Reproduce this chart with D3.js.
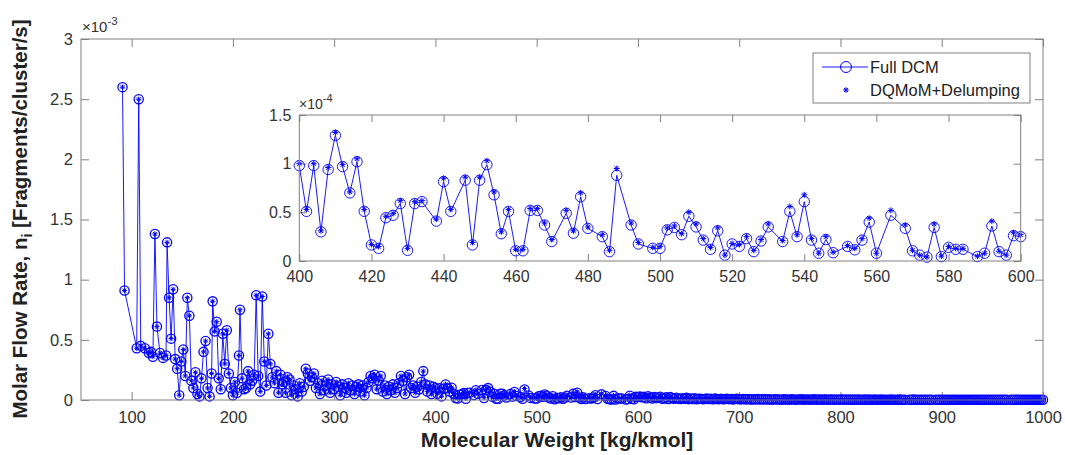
<!DOCTYPE html>
<html><head><meta charset="utf-8">
<script src="https://cdn.jsdelivr.net/npm/d3@7"></script>
<style>
html,body{margin:0;padding:0;background:#fff;}
svg{display:block;font-family:"Liberation Sans",Arial,sans-serif;}
</style></head>
<body><svg id="c" width="1065" height="455"></svg>
<script>
// ---- data (molar flow rate in units of 1e-4 fragments/cluster/s) ----
const mwLow = [91,93,105,107,109,113,117,119,121,123,125,128,131,134,135,137,139,141,143,145,147,149,151,153,155,157,159,161,163,165,167,169,171,173,175,177,179,180,182,184,186,188,190,192,194,196,198,200,202,204,206,207,209,211,213,215,217,219,221,223,225,227,229,231,233,235,237,239,241,243,245,247,249,
250,252,254,256,258,260,262,264,266,268,270,272,274,276,278,280,282,284,286,288,290,292,294,296,298,300,302,304,306,308,310,312,314,316,318,320,322,324,326,328,330,332,334,336,338,340,342,344,346,348,350,352,354,356,358,360,362,364,366,368,370,372,374,376,378,380,382,384,386,388,390,392,394,396,398];
const fullLow = [26.0,9.1,4.3,25.0,4.5,4.3,3.9,4.0,3.6,13.8,6.1,3.9,3.5,3.7,13.1,8.5,5.1,9.2,3.4,2.6,0.4,3.2,4.2,2.0,8.5,7.0,1.6,1.0,2.3,0.5,0.3,1.8,4.0,4.9,1.0,0.3,2.2,8.2,5.7,6.5,1.8,0.9,5.5,3.0,5.8,2.2,1.0,0.4,1.5,0.6,3.7,7.5,1.8,0.9,1.0,2.4,1.3,1.6,2.1,8.7,2.0,0.7,8.6,3.2,1.2,5.5,3.0,1.9,1.4,2.4,0.6,2.1,1.3,
1.5,0.6,1.9,1.7,0.4,1.2,0.9,0.3,1.4,0.7,1.1,2.6,2.2,1.6,1.9,2.2,1.0,1.4,0.5,1.6,0.8,1.2,1.7,0.6,1.3,0.9,1.5,1.1,0.4,1.3,1.0,0.6,1.4,0.8,1.2,0.5,1.1,1.3,0.7,1.2,0.4,1.0,1.5,2.0,1.8,2.1,0.9,1.6,2.0,0.7,1.2,0.5,1.1,0.8,1.3,0.6,1.0,1.4,2.0,1.6,0.5,1.9,2.1,1.0,1.2,0.6,1.1,0.9,1.5,2.4,1.3,0.7,1.2,0.5,1.1];

const mwMid = [400,402,404,406,408,410,412,414,416,418,420,422,424,426,428,430,432,434,438,440,442,446,448,450,452,454,456,458,460,462,464,466,468,470,474,476,478,480,484,486,488,492,494,498,500,502,504,506,508,510,512,514,516,518,520,522,524,526,528,530,534,536,538,540,542,544,546,548,552,554,556,558,560,564,568,570,572,574,576,578,580,582,584,588,590,592,594,596,598,600];
const fullMid = [0.98,0.51,0.98,0.30,0.94,1.29,0.97,0.70,1.02,0.51,0.165,0.13,0.445,0.47,0.59,0.11,0.59,0.61,0.41,0.815,0.51,0.83,0.165,0.83,0.99,0.68,0.28,0.51,0.105,0.105,0.52,0.52,0.37,0.20,0.49,0.285,0.66,0.335,0.25,0.096,0.88,0.37,0.175,0.13,0.13,0.32,0.345,0.27,0.46,0.35,0.215,0.12,0.31,0.06,0.175,0.15,0.23,0.096,0.205,0.35,0.20,0.51,0.25,0.61,0.215,0.08,0.22,0.085,0.15,0.115,0.215,0.40,0.08,0.47,0.335,0.105,0.06,0.04,0.345,0.045,0.14,0.12,0.12,0.045,0.08,0.36,0.096,0.06,0.26,0.25];
const dqmomMid = [1.00,0.53,1.00,0.31,0.96,1.32,0.99,0.71,1.05,0.53,0.17,0.15,0.46,0.49,0.62,0.13,0.61,0.62,0.43,0.85,0.53,0.86,0.19,0.86,1.03,0.71,0.30,0.53,0.12,0.12,0.54,0.54,0.39,0.22,0.52,0.31,0.70,0.35,0.27,0.11,0.95,0.39,0.19,0.14,0.15,0.34,0.36,0.28,0.50,0.38,0.23,0.14,0.34,0.06,0.18,0.17,0.25,0.11,0.22,0.38,0.21,0.56,0.27,0.68,0.23,0.08,0.25,0.09,0.16,0.13,0.23,0.44,0.08,0.52,0.37,0.11,0.06,0.04,0.38,0.05,0.15,0.13,0.13,0.05,0.08,0.41,0.10,0.06,0.29,0.27];

const mwTail = [602,604,606,608,610,612,614,616,618,620,622,624,626,628,630,632,634,636,638,640,642,644,646,648,650,652,654,656,658,660,662,664,666,668,670,672,674,676,678,680,682,684,686,688,690,692,694,696,698,700,
702,704,706,708,710,712,714,716,718,720,722,724,726,728,730,732,734,736,738,740,742,744,746,748,750,752,754,756,758,760,762,764,766,768,770,772,774,776,778,780,782,784,786,788,790,792,794,796,798,800,
802,804,806,808,810,812,814,816,818,820,822,824,826,828,830,832,834,836,838,840,842,844,846,848,850,852,854,856,858,860,862,864,
868,870,872,874,876,878,880,882,884,886,888,890,
894,896,898,900,902,904,906,908,910,912,914,916,918,920,922,924,926,928,930,932,934,936,938,940,942,944,946,948,950,952,954,956,958,960,962,964,
968,970,972,974,976,978,980,982,984,986,988,990,992,994,996,998,1000];
const fullTail = [0.30,0.22,0.26,0.15,0.32,0.20,0.12,0.25,0.16,0.21,0.28,0.10,0.15,0.22,0.09,0.24,0.14,0.10,0.19,0.12,0.08,0.15,0.10,0.18,0.07,0.12,0.09,0.14,0.06,0.10,0.11,0.07,0.09,0.13,0.08,0.10,0.06,0.12,0.09,0.07,0.10,0.06,0.08,0.11,0.07,0.09,0.05,0.08,0.10,0.06,
0.06,0.08,0.05,0.09,0.06,0.04,0.07,0.05,0.08,0.04,0.06,0.05,0.07,0.04,0.06,0.03,0.05,0.07,0.04,0.05,0.03,0.06,0.04,0.05,0.03,0.06,0.04,0.03,0.05,0.04,0.06,0.03,0.04,0.05,0.03,0.04,0.06,0.03,0.05,0.04,0.03,0.05,0.04,0.03,0.04,0.05,0.03,0.04,0.03,0.05,
0.04,0.03,0.05,0.03,0.04,0.02,0.04,0.03,0.05,0.03,0.02,0.04,0.03,0.04,0.02,0.03,0.04,0.02,0.03,0.04,0.02,0.03,0.03,0.02,0.04,0.03,0.02,0.03,0.04,0.02,0.03,0.02,
0.03,0.02,0.04,0.02,0.03,0.02,0.03,0.02,0.03,0.02,0.03,0.02,
0.02,0.03,0.02,0.03,0.02,0.02,0.03,0.02,0.03,0.02,0.02,0.03,0.02,0.02,0.03,0.02,0.02,0.03,0.02,0.02,0.03,0.02,0.02,0.03,0.02,0.02,0.03,0.02,0.02,0.03,0.02,0.02,0.03,0.02,0.02,0.03,
0.02,0.02,0.03,0.02,0.02,0.02,0.03,0.02,0.02,0.02,0.02,0.02,0.03,0.02,0.02,0.02,0.02];
// outside 400-600 the DQMoM stars sit on the Full DCM circles
const dqmomLow = fullLow;
const dqmomTail = fullTail;

const mainXTicks = [100,200,300,400,500,600,700,800,900,1000];
const mainYTicks = [0,5,10,15,20,25,30];          // x1e-4 -> labels x1e-3
const mainYLabels = ["0","0.5","1","1.5","2","2.5","3"];
const insetXTicks = [400,420,440,460,480,500,520,540,560,580,600];
const insetYTicks = [0,0.5,1,1.5];
const insetYLabels = ["0","0.5","1","1.5"];
const seriesNames = ["Full DCM","DQMoM+Delumping"];

// ---- build ----
const mw = mwLow.concat(mwMid, mwTail);
const full = fullLow.concat(fullMid, fullTail);
const dq = dqmomLow.concat(dqmomMid, dqmomTail);
const pts = mw.map((m,i)=>({x:m, a:full[i], b:dq[i]}));

const BLUE = "#0000ff", AX = "#808080", TXT = "#333";
const svg = d3.select("#c");
svg.append("rect").attr("width",1065).attr("height",455).attr("fill","#fff");

function starPath(s){const k=s*0.72;return `M${-s},0L${s},0M0,${-s}L0,${s}M${-k},${-k}L${k},${k}M${-k},${k}L${k},${-k}`;}

function drawAxes(g, x, y, xt, yt, ylab, tick, fs, xpad){
  const [x0,x1]=x.range(), [y0,y1]=y.range();
  g.append("rect").attr("x",x0).attr("y",y1).attr("width",x1-x0).attr("height",y0-y1)
    .attr("fill","#fff").attr("stroke","none");
  const style = sel=>{sel.select(".domain").remove();
    sel.selectAll(".tick line").attr("stroke",AX);
    sel.selectAll(".tick text").attr("fill",TXT).style("font-size",fs+"px").style("font-family","'Liberation Sans',Arial,sans-serif");};
  g.append("g").attr("transform",`translate(0,${y0})`)
    .call(d3.axisBottom(x).tickValues(xt).tickFormat(d3.format("d")).tickSize(-tick).tickPadding(xpad)).call(style);
  g.append("g").attr("transform",`translate(0,${y1})`)
    .call(d3.axisTop(x).tickValues(xt).tickFormat("").tickSize(-tick)).call(style);
  g.append("g").attr("transform",`translate(${x0},0)`)
    .call(d3.axisLeft(y).tickValues(yt).tickFormat((d,i)=>ylab[i]).tickSize(-tick).tickPadding(8)).call(style);
  g.append("g").attr("transform",`translate(${x1},0)`)
    .call(d3.axisRight(y).tickValues(yt).tickFormat("").tickSize(-tick)).call(style);
}
function drawFrame(g,x,y){
  const [x0,x1]=x.range(), [y0,y1]=y.range();
  g.append("rect").attr("x",x0).attr("y",y1).attr("width",x1-x0).attr("height",y0-y1)
    .attr("fill","none").attr("stroke",AX).attr("stroke-width",1);
}
function drawData(g,data,x,y,r,s,sw){
  g.append("path").datum(data)
    .attr("d",d3.line().x(d=>x(d.x)).y(d=>y(d.a)))
    .attr("fill","none").attr("stroke",BLUE).attr("stroke-width",0.9);
  g.append("g").selectAll("circle").data(data).join("circle")
    .attr("cx",d=>x(d.x)).attr("cy",d=>y(d.a)).attr("r",r)
    .attr("fill","none").attr("stroke",BLUE).attr("stroke-width",sw);
  g.append("g").selectAll("path").data(data).join("path")
    .attr("transform",d=>`translate(${x(d.x)},${y(d.b)})`)
    .attr("d",starPath(s)).attr("fill","none").attr("stroke",BLUE).attr("stroke-width",1);
}

// main axes
const x = d3.scaleLinear().domain([50,1000]).range([81,1043]);
const y = d3.scaleLinear().domain([0,30]).range([400,39]);
const gm = svg.append("g");
drawAxes(gm,x,y,mainXTicks,mainYTicks,mainYLabels,8,16.5,11);
drawData(gm,pts,x,y,4.6,2.6,1.3);
drawFrame(gm,x,y);

// exponent label main
const e3 = svg.append("text").attr("x",82).attr("y",32).attr("fill",TXT).style("font-size","15px");
e3.append("tspan").text("\u00d710");
e3.append("tspan").attr("dy",-7).style("font-size","11.5px").text("-3");

// axis titles
svg.append("text").attr("x",557).attr("y",447).attr("text-anchor","middle")
  .attr("fill","#222").style("font-size","21px").style("font-weight","bold").text("Molecular Weight [kg/kmol]");
const yl = svg.append("text").attr("transform","translate(27,219) rotate(-90)").attr("text-anchor","middle")
  .attr("fill","#222").style("font-size","20.5px").style("font-weight","bold");
yl.append("tspan").text("Molar Flow Rate, n");
yl.append("tspan").attr("dy",5).style("font-size","14px").text("i");
yl.append("tspan").attr("dy",-5).text(" [Fragments/cluster/s]");

// inset axes
const xi = d3.scaleLinear().domain([400,600]).range([299.3,1020.7]);
const yi = d3.scaleLinear().domain([0,1.5]).range([261,115]);
const gi = svg.append("g");
drawAxes(gi,xi,yi,insetXTicks,insetYTicks,insetYLabels,7,16,10);
drawData(gi,pts.filter(d=>d.x>=400&&d.x<=600),xi,yi,5.2,3,0.9);
drawFrame(gi,xi,yi);
const e4 = svg.append("text").attr("x",299).attr("y",109).attr("fill",TXT).style("font-size","14px");
e4.append("tspan").text("\u00d710");
e4.append("tspan").attr("dy",-7).style("font-size","11px").text("-4");

// legend
const lg = svg.append("g");
lg.append("rect").attr("x",813).attr("y",53).attr("width",217).attr("height",50)
  .attr("fill","#fff").attr("stroke",AX).attr("stroke-width",1);
lg.append("line").attr("x1",822).attr("x2",868).attr("y1",67).attr("y2",67).attr("stroke",BLUE).attr("stroke-width",0.9);
lg.append("circle").attr("cx",846).attr("cy",67).attr("r",5.5).attr("fill","none").attr("stroke",BLUE).attr("stroke-width",1);
lg.append("path").attr("transform","translate(846,90)").attr("d",starPath(2.8)).attr("stroke",BLUE).attr("stroke-width",1).attr("fill","none");
lg.selectAll("text.l").data(seriesNames).join("text").attr("class","l")
  .attr("x",870).attr("y",(d,i)=>67+i*23).attr("dy","0.36em")
  .attr("fill","#222").style("font-size","16.5px").text(d=>d);
</script></body></html>
